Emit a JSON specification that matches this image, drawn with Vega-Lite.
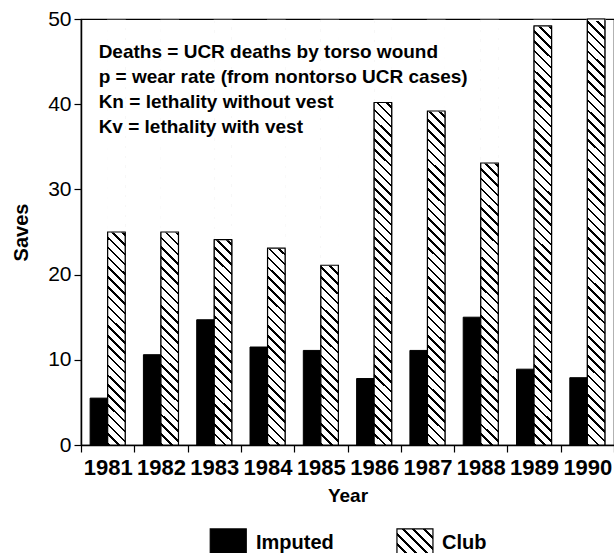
{
  "$schema": "https://vega.github.io/schema/vega-lite/v6.json",
  "width": 533,
  "height": 426,
  "autosize": {"type": "none"},
  "padding": {"left": 81, "top": 19, "right": 0, "bottom": 108},
  "background": "white",
  "config": {
    "font": "Liberation Sans",
    "view": {"stroke": "black", "strokeWidth": 1.2},
    "axisY": {"domainColor": "black", "domainWidth": 1.5, "tickColor": "black", "tickSize": 7, "tickWidth": 1.2, "labelFontSize": 21, "labelColor": "black", "labelPadding": 3, "grid": false, "titleFontSize": 20, "titleFontWeight": "bold", "titleColor": "black", "titlePadding": 16},
    "axisX": {"domainColor": "black", "domainWidth": 1.5, "tickColor": "black", "tickSize": 7, "tickWidth": 1.2, "tickBand": "extent", "labelAngle": 0, "labelFontSize": 22, "labelFontWeight": "bold", "labelColor": "black", "labelPadding": 5, "labelOverlap": false, "labelFlush": false, "titleFontSize": 19, "titleFontWeight": "bold", "titleColor": "black", "titlePadding": 8, "grid": false}
  },
  "data": {"values": [
    {"year": "1981", "series": "Imputed", "value": 5.5},
    {"year": "1982", "series": "Imputed", "value": 10.6},
    {"year": "1983", "series": "Imputed", "value": 14.7},
    {"year": "1984", "series": "Imputed", "value": 11.5},
    {"year": "1985", "series": "Imputed", "value": 11.1},
    {"year": "1986", "series": "Imputed", "value": 7.8},
    {"year": "1987", "series": "Imputed", "value": 11.1},
    {"year": "1988", "series": "Imputed", "value": 15.0},
    {"year": "1989", "series": "Imputed", "value": 8.9},
    {"year": "1990", "series": "Imputed", "value": 7.9},
    {"year": "1981", "series": "Club", "value": 25.0},
    {"year": "1982", "series": "Club", "value": 25.0},
    {"year": "1983", "series": "Club", "value": 24.1},
    {"year": "1984", "series": "Club", "value": 23.1},
    {"year": "1985", "series": "Club", "value": 21.1},
    {"year": "1986", "series": "Club", "value": 40.2},
    {"year": "1987", "series": "Club", "value": 39.2},
    {"year": "1988", "series": "Club", "value": 33.1},
    {"year": "1989", "series": "Club", "value": 49.2},
    {"year": "1990", "series": "Club", "value": 50.0}
  ]},
  "layer": [
    {
      "mark": {"type": "bar", "stroke": "black", "strokeWidth": 1},
      "encoding": {
        "x": {"field": "year", "type": "nominal", "title": "Year", "scale": {"paddingInner": 0, "paddingOuter": 0}},
        "xOffset": {"field": "series", "type": "nominal", "scale": {"domain": ["Imputed", "Club"], "paddingInner": 0, "paddingOuter": 0.52}},
        "y": {"field": "value", "type": "quantitative", "title": "Saves", "scale": {"domain": [0, 50], "nice": false}, "axis": {"values": [0, 10, 20, 30, 40, 50]}},
        "fill": {"field": "series", "type": "nominal", "scale": {"domain": ["Imputed", "Club"], "range": ["black", "white"]}, "legend": null}
      }
    },
    {
      "transform": [{"filter": "datum.series === 'Club'"}],
      "mark": {"type": "bar", "strokeWidth": 0, "fill": {"gradient": "linear", "x1": 0, "y1": 1, "x2": 0.0426, "y2": -0.0393, "stops": [
        {"offset": 0, "color": "#000"}, {"offset": 0.00578, "color": "#000"}, {"offset": 0.00578, "color": "#fff"}, {"offset": 0.02222, "color": "#fff"},
        {"offset": 0.02222, "color": "#000"}, {"offset": 0.028, "color": "#000"}, {"offset": 0.028, "color": "#fff"}, {"offset": 0.04444, "color": "#fff"},
        {"offset": 0.04444, "color": "#000"}, {"offset": 0.05022, "color": "#000"}, {"offset": 0.05022, "color": "#fff"}, {"offset": 0.06667, "color": "#fff"},
        {"offset": 0.06667, "color": "#000"}, {"offset": 0.07244, "color": "#000"}, {"offset": 0.07244, "color": "#fff"}, {"offset": 0.08889, "color": "#fff"},
        {"offset": 0.08889, "color": "#000"}, {"offset": 0.09467, "color": "#000"}, {"offset": 0.09467, "color": "#fff"}, {"offset": 0.11111, "color": "#fff"},
        {"offset": 0.11111, "color": "#000"}, {"offset": 0.11689, "color": "#000"}, {"offset": 0.11689, "color": "#fff"}, {"offset": 0.13333, "color": "#fff"},
        {"offset": 0.13333, "color": "#000"}, {"offset": 0.13911, "color": "#000"}, {"offset": 0.13911, "color": "#fff"}, {"offset": 0.15556, "color": "#fff"},
        {"offset": 0.15556, "color": "#000"}, {"offset": 0.16133, "color": "#000"}, {"offset": 0.16133, "color": "#fff"}, {"offset": 0.17778, "color": "#fff"},
        {"offset": 0.17778, "color": "#000"}, {"offset": 0.18356, "color": "#000"}, {"offset": 0.18356, "color": "#fff"}, {"offset": 0.2, "color": "#fff"},
        {"offset": 0.2, "color": "#000"}, {"offset": 0.20578, "color": "#000"}, {"offset": 0.20578, "color": "#fff"}, {"offset": 0.22222, "color": "#fff"},
        {"offset": 0.22222, "color": "#000"}, {"offset": 0.228, "color": "#000"}, {"offset": 0.228, "color": "#fff"}, {"offset": 0.24444, "color": "#fff"},
        {"offset": 0.24444, "color": "#000"}, {"offset": 0.25022, "color": "#000"}, {"offset": 0.25022, "color": "#fff"}, {"offset": 0.26667, "color": "#fff"},
        {"offset": 0.26667, "color": "#000"}, {"offset": 0.27244, "color": "#000"}, {"offset": 0.27244, "color": "#fff"}, {"offset": 0.28889, "color": "#fff"},
        {"offset": 0.28889, "color": "#000"}, {"offset": 0.29467, "color": "#000"}, {"offset": 0.29467, "color": "#fff"}, {"offset": 0.31111, "color": "#fff"},
        {"offset": 0.31111, "color": "#000"}, {"offset": 0.31689, "color": "#000"}, {"offset": 0.31689, "color": "#fff"}, {"offset": 0.33333, "color": "#fff"},
        {"offset": 0.33333, "color": "#000"}, {"offset": 0.33911, "color": "#000"}, {"offset": 0.33911, "color": "#fff"}, {"offset": 0.35556, "color": "#fff"},
        {"offset": 0.35556, "color": "#000"}, {"offset": 0.36133, "color": "#000"}, {"offset": 0.36133, "color": "#fff"}, {"offset": 0.37778, "color": "#fff"},
        {"offset": 0.37778, "color": "#000"}, {"offset": 0.38356, "color": "#000"}, {"offset": 0.38356, "color": "#fff"}, {"offset": 0.4, "color": "#fff"},
        {"offset": 0.4, "color": "#000"}, {"offset": 0.40578, "color": "#000"}, {"offset": 0.40578, "color": "#fff"}, {"offset": 0.42222, "color": "#fff"},
        {"offset": 0.42222, "color": "#000"}, {"offset": 0.428, "color": "#000"}, {"offset": 0.428, "color": "#fff"}, {"offset": 0.44444, "color": "#fff"},
        {"offset": 0.44444, "color": "#000"}, {"offset": 0.45022, "color": "#000"}, {"offset": 0.45022, "color": "#fff"}, {"offset": 0.46667, "color": "#fff"},
        {"offset": 0.46667, "color": "#000"}, {"offset": 0.47244, "color": "#000"}, {"offset": 0.47244, "color": "#fff"}, {"offset": 0.48889, "color": "#fff"},
        {"offset": 0.48889, "color": "#000"}, {"offset": 0.49467, "color": "#000"}, {"offset": 0.49467, "color": "#fff"}, {"offset": 0.51111, "color": "#fff"},
        {"offset": 0.51111, "color": "#000"}, {"offset": 0.51689, "color": "#000"}, {"offset": 0.51689, "color": "#fff"}, {"offset": 0.53333, "color": "#fff"},
        {"offset": 0.53333, "color": "#000"}, {"offset": 0.53911, "color": "#000"}, {"offset": 0.53911, "color": "#fff"}, {"offset": 0.55556, "color": "#fff"},
        {"offset": 0.55556, "color": "#000"}, {"offset": 0.56133, "color": "#000"}, {"offset": 0.56133, "color": "#fff"}, {"offset": 0.57778, "color": "#fff"},
        {"offset": 0.57778, "color": "#000"}, {"offset": 0.58356, "color": "#000"}, {"offset": 0.58356, "color": "#fff"}, {"offset": 0.6, "color": "#fff"},
        {"offset": 0.6, "color": "#000"}, {"offset": 0.60578, "color": "#000"}, {"offset": 0.60578, "color": "#fff"}, {"offset": 0.62222, "color": "#fff"},
        {"offset": 0.62222, "color": "#000"}, {"offset": 0.628, "color": "#000"}, {"offset": 0.628, "color": "#fff"}, {"offset": 0.64444, "color": "#fff"},
        {"offset": 0.64444, "color": "#000"}, {"offset": 0.65022, "color": "#000"}, {"offset": 0.65022, "color": "#fff"}, {"offset": 0.66667, "color": "#fff"},
        {"offset": 0.66667, "color": "#000"}, {"offset": 0.67244, "color": "#000"}, {"offset": 0.67244, "color": "#fff"}, {"offset": 0.68889, "color": "#fff"},
        {"offset": 0.68889, "color": "#000"}, {"offset": 0.69467, "color": "#000"}, {"offset": 0.69467, "color": "#fff"}, {"offset": 0.71111, "color": "#fff"},
        {"offset": 0.71111, "color": "#000"}, {"offset": 0.71689, "color": "#000"}, {"offset": 0.71689, "color": "#fff"}, {"offset": 0.73333, "color": "#fff"},
        {"offset": 0.73333, "color": "#000"}, {"offset": 0.73911, "color": "#000"}, {"offset": 0.73911, "color": "#fff"}, {"offset": 0.75556, "color": "#fff"},
        {"offset": 0.75556, "color": "#000"}, {"offset": 0.76133, "color": "#000"}, {"offset": 0.76133, "color": "#fff"}, {"offset": 0.77778, "color": "#fff"},
        {"offset": 0.77778, "color": "#000"}, {"offset": 0.78356, "color": "#000"}, {"offset": 0.78356, "color": "#fff"}, {"offset": 0.8, "color": "#fff"},
        {"offset": 0.8, "color": "#000"}, {"offset": 0.80578, "color": "#000"}, {"offset": 0.80578, "color": "#fff"}, {"offset": 0.82222, "color": "#fff"},
        {"offset": 0.82222, "color": "#000"}, {"offset": 0.828, "color": "#000"}, {"offset": 0.828, "color": "#fff"}, {"offset": 0.84444, "color": "#fff"},
        {"offset": 0.84444, "color": "#000"}, {"offset": 0.85022, "color": "#000"}, {"offset": 0.85022, "color": "#fff"}, {"offset": 0.86667, "color": "#fff"},
        {"offset": 0.86667, "color": "#000"}, {"offset": 0.87244, "color": "#000"}, {"offset": 0.87244, "color": "#fff"}, {"offset": 0.88889, "color": "#fff"},
        {"offset": 0.88889, "color": "#000"}, {"offset": 0.89467, "color": "#000"}, {"offset": 0.89467, "color": "#fff"}, {"offset": 0.91111, "color": "#fff"},
        {"offset": 0.91111, "color": "#000"}, {"offset": 0.91689, "color": "#000"}, {"offset": 0.91689, "color": "#fff"}, {"offset": 0.93333, "color": "#fff"},
        {"offset": 0.93333, "color": "#000"}, {"offset": 0.93911, "color": "#000"}, {"offset": 0.93911, "color": "#fff"}, {"offset": 0.95556, "color": "#fff"},
        {"offset": 0.95556, "color": "#000"}, {"offset": 0.96133, "color": "#000"}, {"offset": 0.96133, "color": "#fff"}, {"offset": 0.97778, "color": "#fff"},
        {"offset": 0.97778, "color": "#000"}, {"offset": 0.98356, "color": "#000"}, {"offset": 0.98356, "color": "#fff"}, {"offset": 1, "color": "#fff"}
      ]}},
      "encoding": {
        "x": {"field": "year", "type": "nominal", "title": "Year"},
        "xOffset": {"field": "series", "type": "nominal"},
        "y": {"datum": 49.85, "type": "quantitative", "title": "Saves"},
        "y2": {"datum": 0}
      }
    },
    {
      "transform": [{"filter": "datum.series === 'Club'"}],
      "mark": {"type": "bar", "fill": "white", "stroke": "white", "strokeWidth": 1.2},
      "encoding": {
        "x": {"field": "year", "type": "nominal", "title": "Year"},
        "xOffset": {"field": "series", "type": "nominal"},
        "y": {"field": "value", "type": "quantitative", "title": "Saves"},
        "y2": {"datum": 49.85}
      }
    },
    {
      "transform": [{"filter": "datum.series === 'Club'"}],
      "mark": {"type": "bar", "fill": "transparent", "stroke": "black", "strokeWidth": 1.2},
      "encoding": {
        "x": {"field": "year", "type": "nominal", "title": "Year"},
        "xOffset": {"field": "series", "type": "nominal"},
        "y": {"field": "value", "type": "quantitative", "title": "Saves"}
      }
    },
    {
      "data": {"values": [{"note": "key"}]},
      "mark": {"type": "text", "text": ["Deaths = UCR deaths by torso wound", "p = wear rate (from nontorso UCR cases)", "Kn = lethality without vest", "Kv = lethality with vest"], "align": "left", "baseline": "alphabetic", "fontSize": 19, "fontWeight": "bold", "lineHeight": 25, "dx": -9, "color": "black"},
      "encoding": {
        "x": {"datum": "1981", "type": "nominal", "title": "Year"},
        "y": {"datum": 45.4, "type": "quantitative", "title": "Saves"}
      }
    },
    {
      "data": {"values": [{"series": "Imputed"}]},
      "mark": {"type": "point", "shape": "M-1,-0.75H1V0.75H-1Z", "size": 1296, "filled": true, "fill": "black", "stroke": "black", "strokeWidth": 1.2, "opacity": 1, "xOffset": 14},
      "encoding": {
        "x": {"datum": "1983", "type": "nominal", "title": "Year"},
        "y": {"datum": -11.44, "type": "quantitative", "title": "Saves"}
      }
    },
    {
      "data": {"values": [{"series": "Club"}]},
      "mark": {"type": "point", "shape": "M-1,-0.75H1V0.75H-1Z", "size": 1296, "filled": true, "stroke": "black", "strokeWidth": 1.2, "opacity": 1, "xOffset": -12.5, "fill": {"gradient": "linear", "x1": 0, "y1": 1, "x2": 1.12, "y2": 0.16, "stops": [
                {"offset": 0, "color": "#000"}, {"offset": 0.04333, "color": "#000"}, {"offset": 0.04333, "color": "#fff"}, {"offset": 0.16667, "color": "#fff"},
                {"offset": 0.16667, "color": "#000"}, {"offset": 0.21, "color": "#000"}, {"offset": 0.21, "color": "#fff"}, {"offset": 0.33333, "color": "#fff"},
                {"offset": 0.33333, "color": "#000"}, {"offset": 0.37667, "color": "#000"}, {"offset": 0.37667, "color": "#fff"}, {"offset": 0.5, "color": "#fff"},
                {"offset": 0.5, "color": "#000"}, {"offset": 0.54333, "color": "#000"}, {"offset": 0.54333, "color": "#fff"}, {"offset": 0.66667, "color": "#fff"},
                {"offset": 0.66667, "color": "#000"}, {"offset": 0.71, "color": "#000"}, {"offset": 0.71, "color": "#fff"}, {"offset": 0.83333, "color": "#fff"},
                {"offset": 0.83333, "color": "#000"}, {"offset": 0.87667, "color": "#000"}, {"offset": 0.87667, "color": "#fff"}, {"offset": 1, "color": "#fff"}
              ]}},
      "encoding": {
        "x": {"datum": "1987", "type": "nominal", "title": "Year"},
        "y": {"datum": -11.44, "type": "quantitative", "title": "Saves"}
      }
    },
    {
      "data": {"values": [{"series": "Imputed"}]},
      "mark": {"type": "text", "align": "left", "baseline": "alphabetic", "fontSize": 20, "fontWeight": "bold", "color": "black", "dx": -11.6},
      "encoding": {
        "text": {"field": "series"},
        "x": {"datum": "1984", "type": "nominal", "title": "Year"},
        "y": {"datum": -12.2, "type": "quantitative", "title": "Saves"}
      }
    },
    {
      "data": {"values": [{"series": "Club"}]},
      "mark": {"type": "text", "align": "left", "baseline": "alphabetic", "fontSize": 20, "fontWeight": "bold", "color": "black", "dx": 14.5},
      "encoding": {
        "text": {"field": "series"},
        "x": {"datum": "1987", "type": "nominal", "title": "Year"},
        "y": {"datum": -12.2, "type": "quantitative", "title": "Saves"}
      }
    }
  ]
}
